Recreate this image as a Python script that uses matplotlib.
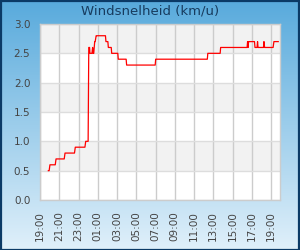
import matplotlib
matplotlib.use("Agg")
import matplotlib.pyplot as plt
import matplotlib.dates as mdates
import numpy as np
import pandas as pd
from matplotlib.patches import Rectangle

# --- data (readings, km/u) ---
times = ["19:52", "19:57", "20:02", "20:35", "20:40", "21:31", "21:36", "22:35", "22:40",
         "23:40", "23:45", "00:00", "00:04", "00:09", "00:11", "00:24", "00:28", "00:31",
         "00:35", "00:41", "00:44", "00:50", "00:53", "01:48", "01:51", "02:03", "02:06",
         "02:24", "02:27", "03:05", "03:08", "03:57", "04:00", "06:58", "07:01", "12:23",
         "12:26", "13:43", "13:46", "16:31", "16:34", "16:37", "16:40", "16:43", "17:17",
         "17:20", "17:33", "17:36", "17:39", "18:13", "18:16", "18:20", "19:13", "19:18",
         "19:45"]
values = [0.5, 0.5, 0.6, 0.6, 0.7, 0.7, 0.8, 0.8, 0.9,
          0.9, 1.0, 1.0, 2.6, 2.6, 2.5, 2.5, 2.6, 2.5,
          2.5, 2.7, 2.7, 2.8, 2.8, 2.8, 2.7, 2.7, 2.6,
          2.6, 2.5, 2.5, 2.4, 2.4, 2.3, 2.3, 2.4, 2.4,
          2.5, 2.5, 2.6, 2.6, 2.7, 2.6, 2.7, 2.7, 2.7,
          2.6, 2.6, 2.7, 2.6, 2.6, 2.7, 2.6, 2.6, 2.7,
          2.7]
title = "Windsnelheid (km/u)"
y_ticks = [0.0, 0.5, 1.0, 1.5, 2.0, 2.5, 3.0]

# build datetimes (day rolls over after midnight)
start = pd.Timestamp("2024-01-01 19:00")
dts = []
day = 0
prev = None
for t in times:
    h, m = map(int, t.split(":"))
    if prev is not None and h < prev:
        day = 1
    prev = h
    dts.append(pd.Timestamp(2024, 1, 1 + day, h, m))

fig = plt.figure(figsize=(3.0, 2.5), dpi=100)

# gradient background
bg = fig.add_axes([0, 0, 1, 1], zorder=0)
top = np.array([88, 170, 220]) / 255
bot = np.array([224, 240, 250]) / 255
n = 256
grad = np.linspace(0, 1, n)[:, None, None]
img = top[None, None, :] * (1 - grad) + bot[None, None, :] * grad
bg.imshow(img, aspect="auto", extent=[0, 1, 0, 1])
bg.set_axis_off()
fig.patches.append(Rectangle((0.002, 0.002), 0.995, 0.995, transform=fig.transFigure,
                             fill=False, edgecolor="#0b3a66", linewidth=1.6, zorder=10))

ax = fig.add_axes([40/300, 50/250, 240/300, 176/250], zorder=1)
ax.set_facecolor("white")

x0 = start
x1 = start + pd.Timedelta(hours=24, minutes=56)
ax.set_xlim(x0, x1)
ax.set_ylim(0, 3.0)

# alternating bands
for lo in [0.5, 1.5, 2.5]:
    ax.axhspan(lo, lo + 0.5, color="#f2f2f2", zorder=0, linewidth=0)

ax.plot(dts, values, color="#ff0000", linewidth=0.9, zorder=3)

ax.set_yticks(y_ticks)
ax.set_yticklabels([f"{v:.1f}" for v in y_ticks])
ax.xaxis.set_major_locator(mdates.HourLocator(byhour=range(1, 24, 2)))
ax.xaxis.set_major_formatter(mdates.DateFormatter("%H:%M"))

ax.grid(axis="x", color="#cccccc", linewidth=1.0, zorder=1)
ax.grid(axis="y", color="#dddddd", linewidth=1.0, zorder=1)
ax.set_axisbelow(True)

ax.tick_params(axis="both", length=0, labelsize=7.5, colors="#444444")
ax.tick_params(axis="y", pad=7)
ax.tick_params(axis="x", pad=8, labelrotation=90)
for s in ax.spines.values():
    s.set_color("#cccccc")
    s.set_linewidth(1.0)

fig.text(0.5, 1 - 11/250, title, ha="center", va="center", fontsize=9.5, color="#173b5e")

fig.savefig("out.png", dpi=100)
